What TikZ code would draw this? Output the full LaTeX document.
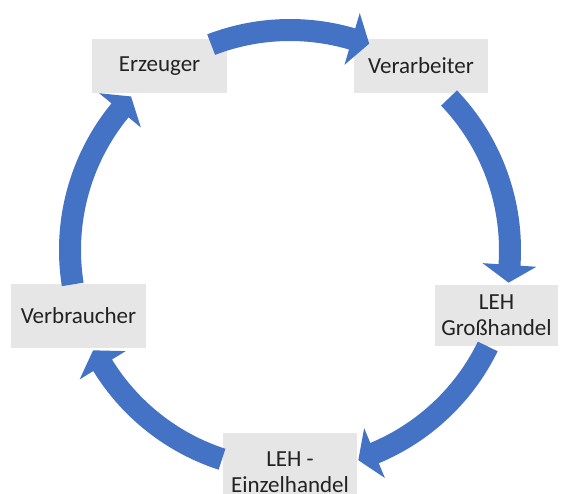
\documentclass[tikz,border=0pt]{standalone}
\usepackage{fontspec}
\setmainfont{Carlito}
\definecolor{arrowblue}{HTML}{4472C4}
\definecolor{boxgray}{HTML}{E6E6E6}
\definecolor{txt}{HTML}{222222}
\newcommand{\ringarrow}[2]{%
  \pgfmathsetmacro{\hb}{#2+4.6}%
  \fill[arrowblue] (#1:209pt) arc[start angle=#1, end angle=\hb, radius=209pt]
    -- (\hb:193pt) -- (#2:221pt) -- (\hb:247pt) -- (\hb:231pt)
    arc[start angle=\hb, end angle=#1, radius=231pt] -- cycle;}
\begin{document}
\begin{tikzpicture}[x=1pt,y=1pt,
  stage/.style={rectangle, fill=boxgray, inner sep=0pt, text=txt, align=center,
    font=\fontsize{23}{26}\selectfont}]
\useasboundingbox (0,0) rectangle (562,493);
\clip (0,0) rectangle (562,493);
\coordinate (c) at (290,243);
\node[stage, minimum width=135, minimum height=54] (erz) at (159.5,427) {Erzeuger};
\node[stage, minimum width=134, minimum height=54] (ver) at (421,427) {Verarbeiter};
\node[stage, minimum width=123, minimum height=61] (gro) at (496.5,177.5) {LEH\\Großhandel};
\node[stage, minimum width=134, minimum height=79] (ein) at (290,20.5) {LEH -\\Einzelhandel};
\node[stage, minimum width=135, minimum height=64] (vbr) at (78.5,177) {Verbraucher};
\begin{scope}[shift={(c)}]
  \ringarrow{111}{69}
  \ringarrow{43.7}{-8.5}
  \ringarrow{-26}{-72}
  \ringarrow{-108}{-153}
  \ringarrow{189}{136}
\end{scope}
\end{tikzpicture}
\end{document}
